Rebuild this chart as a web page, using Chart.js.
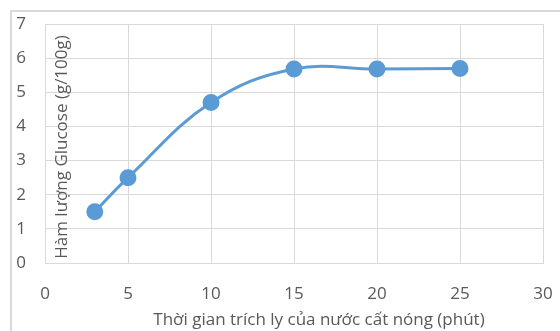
<!DOCTYPE html>
<html lang="vi">
<head>
    <meta charset="UTF-8">
    <title>Hàm lượng Glucose</title>
    <style>
        body {
            margin: 0;
            background: #ffffff;
        }
        .frame {
            position: absolute;
            left: 10px;
            top: 10px;
            width: 600px;
            height: 400px;
            border-left: 2px solid #d9d9d9;
            border-top: 2px solid #d9d9d9;
        }
        .chart-box {
            position: absolute;
            left: 0;
            top: 0;
            width: 560px;
            height: 331px;
        }
    </style>
</head>
<body>
    <div class="frame"></div>
    <div class="chart-box">
        <canvas id="glucoseChart" width="560" height="331"></canvas>
    </div>

    <script src="https://cdn.jsdelivr.net/npm/chart.js"></script>
    <script>
        // Data
        const thoiGian = [3, 5, 10, 15, 20, 25];
        const glucose = [1.5, 2.5, 4.7, 5.68, 5.68, 5.7];
        const xTicks = [0, 5, 10, 15, 20, 25, 30];
        const yTicks = [0, 1, 2, 3, 4, 5, 6, 7];

        const yTitle = 'Hàm lượng Glucose (g/100g)';
        const xTitle = 'Thời gian trích ly của nước cất nóng (phút)';

        const FONT = "'Open Sans', 'Noto Sans', sans-serif";
        const GRID = '#d9d9d9';
        const TEXT = '#595959';

        // axis titles placed by hand, like the original (y title sits inside the plot)
        const titlesPlugin = {
            id: 'axisTitles',
            afterDatasetsDraw(chart) {
                const ctx = chart.ctx;
                const area = chart.chartArea;
                ctx.save();
                ctx.fillStyle = TEXT;
                ctx.textAlign = 'center';
                ctx.textBaseline = 'middle';

                ctx.font = '17px ' + FONT;
                ctx.fillText(xTitle, area.left + 274, 320);

                ctx.translate(area.left + 17, 147);
                ctx.rotate(-Math.PI / 2);
                ctx.fillText(yTitle, 0, 0);
                ctx.restore();
            }
        };

        const ctx = document.getElementById('glucoseChart').getContext('2d');
        new Chart(ctx, {
            type: 'line',
            data: {
                datasets: [{
                    data: thoiGian.map((x, i) => ({ x: x, y: glucose[i] })),
                    borderColor: '#5b9bd5',
                    backgroundColor: '#5b9bd5',
                    borderWidth: 3,
                    pointRadius: 7,
                    pointHoverRadius: 7,
                    tension: 0.4,
                    fill: false
                }]
            },
            options: {
                responsive: false,
                animation: false,
                layout: {
                    padding: { left: 0, right: 17, top: 24, bottom: 0 }
                },
                plugins: {
                    legend: { display: false },
                    tooltip: { enabled: false }
                },
                scales: {
                    x: {
                        type: 'linear',
                        min: 0,
                        max: 30,
                        afterBuildTicks: s => { s.ticks = xTicks.map(v => ({ value: v })); },
                        afterFit: s => {
                            s.height = 68;
                            s.paddingLeft = 0;
                            s.paddingRight = 0;
                        },
                        grid: { color: GRID, drawTicks: false },
                        border: { color: GRID },
                        ticks: {
                            padding: 21,
                            color: TEXT,
                            font: { family: FONT, size: 17 }
                        }
                    },
                    y: {
                        min: 0,
                        max: 7,
                        afterBuildTicks: s => { s.ticks = yTicks.map(v => ({ value: v })); },
                        afterFit: s => {
                            s.width = 45;
                            s.paddingTop = 0;
                            s.paddingBottom = 0;
                        },
                        grid: { color: GRID, drawTicks: false },
                        border: { color: GRID },
                        ticks: {
                            padding: 19,
                            color: TEXT,
                            font: { family: FONT, size: 17 }
                        }
                    }
                }
            },
            plugins: [titlesPlugin]
        });
    </script>
</body>
</html>
